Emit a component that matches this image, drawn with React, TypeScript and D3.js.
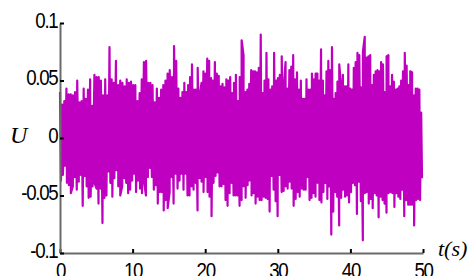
import { useEffect, useRef } from "react";
import * as d3 from "d3";

const xTicks = [0, 10, 20, 30, 40, 50];
const yTicks = [-0.1, -0.05, 0, 0.05, 0.1];
const yTickLabels = ["-0.1", "-0.05", "0", "0.05", "0.1"];

// time span (s) of each block of readings
const blockT = [0, 16.6, 33.7, 50];

// positive excursions of U, in units of 1e-3
const hiA = [40, 29, 32, 43, 38, 38, 37, 40, 50, 31, 32, 43, 34, 42, 51, 28, 55, 53, 53, 50, 37, 51, 37, 79, 51, 48, 67, 46, 50, 48, 45, 51, 48, 49, 46, 46, 32, 39, 51, 66, 67, 48, 48, 46, 31, 43, 35, 42, 46, 50, 56, 59, 53, 80, 67, 43];
const hiB = [35, 40, 48, 40, 46, 53, 64, 42, 42, 61, 37, 48, 58, 56, 69, 67, 52, 50, 66, 56, 54, 45, 47, 44, 51, 50, 53, 39, 48, 55, 32, 53, 85, 72, 40, 42, 47, 59, 58, 58, 57, 61, 90, 39, 50, 74, 51, 42, 45, 74, 50, 52, 55, 71, 43, 66, 43, 59, 62, 72, 51, 57, 42, 50, 34];
const hiC = [34, 51, 42, 42, 56, 51, 56, 56, 50, 77, 50, 37, 58, 67, 59, 79, 34, 39, 49, 64, 45, 55, 45, 45, 64, 43, 42, 61, 66, 74, 72, 44, 75, 88, 70, 71, 72, 46, 55, 58, 59, 58, 66, 64, 40, 71, 72, 45, 55, 49, 42, 43, 45, 50, 58, 74, 63, 46, 58, 57, 37, 43, 43, 42, 22];

// negative excursions of U, in units of 1e-3
const loA = [-37, -32, -24, -39, -41, -48, -42, -34, -45, -38, -32, -59, -33, -42, -52, -51, -42, -39, -44, -57, -44, -74, -52, -50, -29, -39, -51, -35, -28, -42, -50, -42, -35, -39, -48, -45, -37, -31, -47, -37, -44, -48, -37, -50, -34, -26, -34, -45, -41, -57, -47, -47, -63, -54, -61, -47, -34, -57, -31, -44, -37];
const loB = [-31, -45, -31, -50, -50, -42, -45, -39, -63, -35, -38, -47, -34, -47, -51, -68, -39, -33, -30, -42, -42, -40, -54, -59, -48, -39, -50, -50, -50, -59, -54, -42, -52, -41, -37, -50, -48, -57, -51, -54, -54, -51, -52, -53, -64, -33, -45, -55, -68, -32, -47, -46, -42, -44, -38, -44, -59, -53, -47, -51, -44, -45];
const loC = [-45, -34, -54, -52, -48, -51, -39, -54, -56, -47, -39, -53, -42, -84, -64, -47, -51, -76, -52, -45, -51, -50, -56, -47, -39, -41, -66, -38, -55, -89, -48, -47, -57, -53, -61, -48, -50, -69, -51, -54, -57, -65, -48, -47, -48, -60, -48, -51, -53, -45, -68, -54, -58, -58, -58, -76, -54, -53, -54, -35];

interface Pt {
  t: number;
  u: number;
}

function buildSignal(): Pt[] {
  const pts: Pt[] = [];
  const his = [hiA, hiB, hiC];
  const los = [loA, loB, loC];
  for (let b = 0; b < 3; b++) {
    const t0 = blockT[b];
    const t1 = blockT[b + 1];
    his[b].forEach((v, i) =>
      pts.push({ t: t0 + (i / his[b].length) * (t1 - t0), u: v / 1000 })
    );
    los[b].forEach((v, i) =>
      pts.push({ t: t0 + ((i + 0.5) / los[b].length) * (t1 - t0), u: v / 1000 })
    );
  }
  return pts.sort((a, b) => a.t - b.t);
}

const tickFont = "'Liberation Sans Narrow', 'Arial Narrow', 'Liberation Sans', Arial, sans-serif";
const labelFont = "'Liberation Serif', 'Times New Roman', serif";

export default function App() {
  const svgRef = useRef<SVGSVGElement>(null);

  useEffect(() => {
    const width = 474;
    const height = 276;
    const margin = { top: 23, right: 51, bottom: 23, left: 60 };

    const svg = d3.select(svgRef.current).attr("width", width).attr("height", height);
    svg.selectAll("*").remove();

    const x = d3.scaleLinear().domain([0, 50]).range([margin.left, width - margin.right]);
    const y = d3.scaleLinear().domain([-0.1, 0.1]).range([height - margin.bottom, margin.top]);

    const signal = buildSignal();
    const line = d3
      .line<Pt>()
      .x((d) => x(d.t))
      .y((d) => y(d.u));

    svg
      .append("path")
      .datum(signal)
      .attr("d", line)
      .attr("fill", "none")
      .attr("stroke", "#c000c0")
      .attr("stroke-width", 2.2)
      .attr("stroke-linejoin", "round");

    const gx = svg
      .append("g")
      .attr("transform", `translate(0,${height - margin.bottom})`)
      .call(
        d3
          .axisBottom(x)
          .tickValues(xTicks)
          .tickFormat((d) => String(d))
          .tickSizeInner(-4)
          .tickSizeOuter(0)
          .tickPadding(9)
      );

    const gy = svg
      .append("g")
      .attr("transform", `translate(${margin.left},0)`)
      .call(
        d3
          .axisLeft(y)
          .tickValues(yTicks)
          .tickFormat((_d, i) => yTickLabels[i])
          .tickSizeInner(-4)
          .tickSizeOuter(0)
          .tickPadding(3)
      );

    [gx, gy].forEach((g) => {
      g.select(".domain").attr("stroke", "#6a6a6a").attr("stroke-width", 2);
      g.selectAll(".tick line").attr("stroke", "#000").attr("stroke-width", 2);
      g.selectAll(".tick text")
        .attr("fill", "#000")
        .attr("font-family", tickFont)
        .attr("font-size", 22)
        .attr("letter-spacing", -1.5)
        .attr("transform", "scale(0.85,1)");
    });
    gy.selectAll(".tick text").attr("dy", "0.2em");

    svg
      .append("text")
      .attr("x", 10)
      .attr("y", 143)
      .attr("font-family", labelFont)
      .attr("font-style", "italic")
      .attr("font-size", 24)
      .text("U");

    svg
      .append("text")
      .attr("x", 438)
      .attr("y", 256)
      .attr("font-family", labelFont)
      .attr("font-style", "italic")
      .attr("font-size", 22)
      .text("t(s)");
  }, []);

  return (
    <svg ref={svgRef} style={{ position: "absolute", left: 0, top: 0 }}></svg>
  );
}
